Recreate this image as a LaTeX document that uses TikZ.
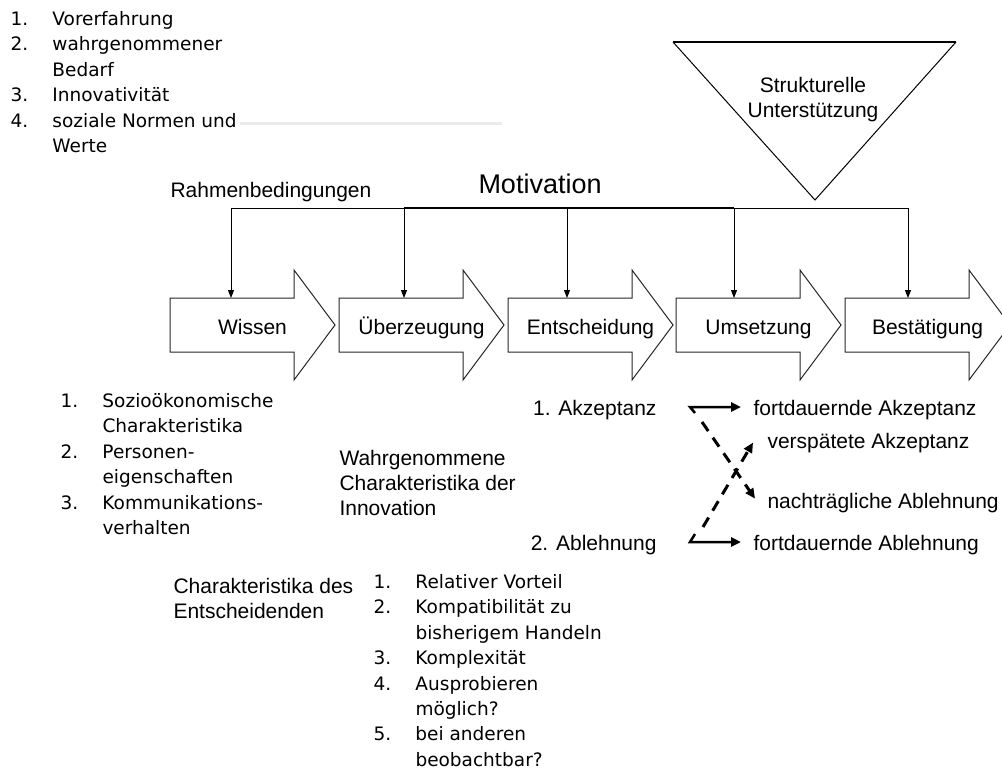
\documentclass[tikz,border=0pt]{standalone}
\usepackage{fontspec}
\setmainfont{Liberation Sans}
\newfontfamily\listfont{DejaVu Sans}
\usepackage{tikz}
\usetikzlibrary{positioning,arrows.meta,calc}

\newcommand{\lbl}{\fontsize{21}{25}\selectfont}
\newcommand{\lst}{\listfont\fontsize{18.5}{25.4}\selectfont}
\newcommand{\topline}{\rule{0pt}{20pt}}
\newcommand{\listnum}[1]{\makebox[42pt][l]{#1}}
\newcommand{\listind}{\hspace*{42pt}}

\begin{document}
\begin{tikzpicture}[x=1pt, y=-1pt, line width=1pt,
        txt/.style={inner sep=0pt, font=\lbl},
        liste/.style={inner sep=0pt, font=\lst, align=left, anchor=north west},
        stepshape/.style={draw=black!85, line width=1pt},
        steplabel/.style={inner sep=0pt, font=\lbl, anchor=base},
        feed/.style={-{Triangle[length=8pt,width=6pt]}},
        solidarrow/.style={line width=2.5pt, -{Triangle[length=10pt,width=9pt]}},
        dasharrow/.style={line width=3pt, dash pattern=on 11pt off 8pt,
            -{Triangle[length=10pt,width=9pt]}}]
        \useasboundingbox (0,0) rectangle (1002,769);

        % Vorbedingungen
        \node[liste] (vorbed) at (10,5) {\topline\listnum{1.}Vorerfahrung\\
            \listnum{2.}wahrgenommener\\ \listind Bedarf\\
            \listnum{3.}Innovativität\\
            \listnum{4.}soziale Normen und\\ \listind Werte};
        \fill[black!8] (240,121.5) rectangle (502,124.5);

        \node[txt, anchor=base west] (rahmen) at (170,197) {Rahmenbedingungen};
        \node[txt, anchor=base west, font=\fontsize{27}{30}\selectfont] (motiv) at (478,193) {Motivation};

        % strukturelle Unterstuetzung
        \draw (673,42) -- (815,200) -- (956,42);
        \draw[line width=2pt] (673,42) -- (956,42);
        \node[txt, align=center, anchor=north] (struktur) at (813,72) {\topline Strukturelle\\Unterstützung};

        % Phasen
        \foreach \x/\name/\txt/\dx in {170/wissen/Wissen/61, 339/ueberz/Überzeugung/65,
                508/entsch/Entscheidung/59, 676/umsetz/Umsetzung/58, 845/bestaet/Bestätigung/63} {
            \draw[stepshape] (\x,298) -- ++(124,0) -- ++(0,-28) -- ++(41,55)
                -- ++(-41,55) -- ++(0,-28) -- ++(-124,0) -- cycle;
            \node[steplabel] (\name) at (\x+82.5,334) {\txt};
            \coordinate (\name-in) at (\x+\dx,298);
            \coordinate (\name-m) at (\x+\dx,208);
            \draw[feed] (\name-m) -- (\name-in);
        }
        \draw (wissen-m) -- (bestaet-m);
        \draw[line width=1.8pt] (ueberz-m) -- (umsetz-m);

        % Charakteristika
        \node[liste] (person) at (60,387) {\topline\listnum{1.}Sozioökonomische\\
            \listind Charakteristika\\
            \listnum{2.}Personen-\\ \listind eigenschaften\\
            \listnum{3.}Kommunikations-\\ \listind verhalten};
        \node[txt, align=left, anchor=north west] (wahrg) at (339,445)
            {\topline Wahrgenommene\\Charakteristika der\\Innovation};
        \node[txt, align=left, anchor=north west] (entscheider) at (173,573)
            {\topline Charakteristika des\\Entscheidenden};
        \node[liste] (inno) at (373,568) {\topline\listnum{1.}Relativer Vorteil\\
            \listnum{2.}Kompatibilität zu\\ \listind bisherigem Handeln\\
            \listnum{3.}Komplexität\\
            \listnum{4.}Ausprobieren\\ \listind möglich?\\
            \listnum{5.}bei anderen\\ \listind beobachtbar?};

        % Ergebnisse
        \node[txt, anchor=base east] (akz) at (657,415) {1. Akzeptanz};
        \node[txt, anchor=base east] (abl) at (657,550) {2. Ablehnung};
        \node[txt, anchor=base west] (fakz) at (753,415) {fortdauernde Akzeptanz};
        \node[txt, anchor=base west] (vakz) at (767,448) {verspätete Akzeptanz};
        \node[txt, anchor=base west] (nabl) at (767,508) {nachträgliche Ablehnung};
        \node[txt, anchor=base west] (fabl) at (753,550) {fortdauernde Ablehnung};

        \coordinate (akz-c) at (690,407);
        \coordinate (abl-c) at (690,542);
        \draw[solidarrow] (akz-c) ++(5,6) -- (akz-c) -- ($(akz-c -| fakz.west)+(-12,0)$);
        \draw[solidarrow] (abl-c) ++(5,-8) -- (abl-c) -- ($(abl-c -| fabl.west)+(-12,0)$);
        \draw[dasharrow] ($(akz-c)+(12,15)$) -- ($(nabl.west)+(-12,-4)$);
        \draw[dasharrow] ($(abl-c)+(13,-15)$) -- ($(vakz.west)+(-14,0)$);
    \end{tikzpicture}
\end{document}
